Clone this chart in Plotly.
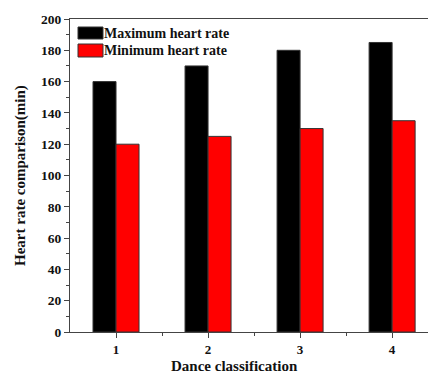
import plotly.graph_objects as go

categories = [1, 2, 3, 4]
max_hr = [160, 170, 180, 185]
min_hr = [120, 125, 130, 135]
series_names = ["Maximum heart rate", "Minimum heart rate"]
colors = ["#000000", "#ff0000"]
y_ticks = list(range(0, 201, 20))

W, H = 428, 378
L, R, T, B = 70, 0, 19, 46
pw, ph = W - L - R, H - T - B

def px(x):
    return (x - L) / pw

def py(y):
    return (H - B - y) / ph

FONT = "Liberation Serif, Times New Roman, serif"

fig = go.Figure()
for name, vals, c in zip(series_names, [max_hr, min_hr], colors):
    fig.add_trace(go.Bar(
        x=categories, y=vals, name=name,
        marker=dict(color=c, line=dict(color="#333333", width=1)),
        showlegend=False,
    ))

fig.update_layout(
    width=W, height=H,
    margin=dict(l=L, r=R, t=T, b=B),
    paper_bgcolor="white", plot_bgcolor="white",
    barmode="group", bargap=0.5, bargroupgap=0,
    font=dict(family=FONT, size=12, color="#111"),
    xaxis=dict(
        range=[0.5, 4.39], tickvals=categories,
        ticktext=[f"<b>{c}</b>" for c in categories],
        showline=True, linecolor="#444", linewidth=1.2, mirror=True,
        ticks="outside", ticklen=5, tickcolor="#444",
        minor=dict(tickvals=[1.5, 2.5, 3.5], ticks="outside", ticklen=3, tickcolor="#444"),
        showgrid=False, zeroline=False,
        tickfont=dict(family=FONT, size=13, color="#111"),
    ),
    yaxis=dict(
        range=[0, 200], tickvals=y_ticks,
        ticktext=[f"<b>{v}</b>" for v in y_ticks],
        showline=True, linecolor="#444", linewidth=1.2,
        ticks="outside", ticklen=5, tickcolor="#444",
        minor=dict(dtick=10, ticks="outside", ticklen=3, tickcolor="#444"),
        showgrid=False, zeroline=False,
        tickfont=dict(family=FONT, size=13.5, color="#111"),
    ),
)

# legend drawn inside plot at top-left
boxes = [(27, 39), (44, 57)]
for (y0, y1), name, c in zip(boxes, series_names, colors):
    fig.add_shape(type="rect", xref="paper", yref="paper",
                  x0=px(78), x1=px(103), y0=py(y1), y1=py(y0),
                  fillcolor=c, line=dict(color="#333", width=1))
    fig.add_annotation(xref="paper", yref="paper", x=px(102), y=py((y0 + y1) / 2),
                       text=f"<b>{name}</b>", showarrow=False, xanchor="left", yanchor="middle",
                       font=dict(family=FONT, size=14, color="#111"))

# axis titles
fig.add_annotation(xref="paper", yref="paper", x=px(234), y=py(366),
                   text="<b>Dance classification</b>", showarrow=False,
                   xanchor="center", yanchor="middle",
                   font=dict(family=FONT, size=15, color="#111"))
fig.add_annotation(xref="paper", yref="paper", x=px(20), y=py(176),
                   text="<b>Heart rate comparison(min)</b>", showarrow=False, textangle=-90,
                   xanchor="center", yanchor="middle",
                   font=dict(family=FONT, size=15, color="#111"))

fig.write_html("out.html", config={"displayModeBar": False},
               post_script="document.body.style.margin='0';")
